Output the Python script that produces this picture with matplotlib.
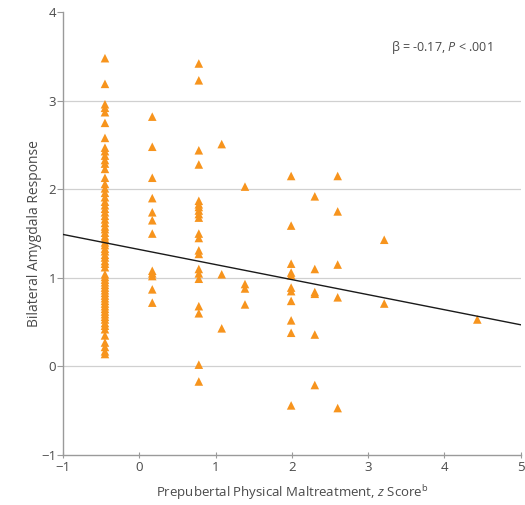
import matplotlib
matplotlib.use("Agg")
import matplotlib.pyplot as plt
import numpy as np

plt.rcParams["font.family"] = ["Open Sans", "DejaVu Sans"]
plt.rcParams["mathtext.fontset"] = "custom"
plt.rcParams["mathtext.rm"] = "Open Sans"
plt.rcParams["mathtext.it"] = "Open Sans:italic"

# Prepubertal physical maltreatment z score levels (one per column of points)
z_levels = [-0.45, 0.17, 0.78, 1.08, 1.385, 1.99, 2.30, 2.60, 3.21, 4.43]

# Bilateral amygdala response at each z score level
resp_m045 = [3.48, 3.19, 2.96, 2.92, 2.87, 2.75, 2.58, 2.47, 2.43, 2.38, 2.33,
             2.29, 2.23, 2.13, 2.06, 2.01, 1.96, 1.91, 1.86, 1.82, 1.78, 1.74,
             1.70, 1.66, 1.62, 1.58, 1.55, 1.51, 1.47, 1.44, 1.40, 1.37, 1.33,
             1.30, 1.26, 1.23, 1.19, 1.16, 1.12, 1.04, 1.01, 0.98, 0.95, 0.92,
             0.89, 0.86, 0.83, 0.80, 0.77, 0.74, 0.71, 0.68, 0.65, 0.62, 0.59,
             0.56, 0.53, 0.49, 0.46, 0.42, 0.35, 0.27, 0.22, 0.17, 0.14]
resp_017 = [2.82, 2.48, 2.13, 1.90, 1.74, 1.65, 1.50, 1.08, 1.05, 1.02, 0.87, 0.72]
resp_078 = [3.42, 3.23, 2.44, 2.28, 1.87, 1.83, 1.80, 1.76, 1.72, 1.68, 1.50,
            1.45, 1.31, 1.27, 1.10, 1.05, 0.99, 0.68, 0.60, 0.02, -0.17]
resp_108 = [2.51, 1.04, 0.43]
resp_139 = [2.03, 0.93, 0.88, 0.70]
resp_199 = [2.15, 1.59, 1.16, 1.06, 1.03, 0.89, 0.85, 0.74, 0.52, 0.38, -0.44]
resp_230 = [1.92, 1.10, 0.84, 0.82, 0.36, -0.21]
resp_260 = [2.15, 1.75, 1.15, 0.78, -0.47]
resp_321 = [1.43, 0.71]
resp_443 = [0.53]

# Fitted regression line
beta = -0.17
intercept = 1.32

x_ticks = [-1, 0, 1, 2, 3, 4, 5]
y_ticks = [-1, 0, 1, 2, 3, 4]

columns = [resp_m045, resp_017, resp_078, resp_108, resp_139,
           resp_199, resp_230, resp_260, resp_321, resp_443]
xs = np.concatenate([[z] * len(col) for z, col in zip(z_levels, columns)])
ys = np.concatenate(columns)

text_color = "#4a4a4a"
axis_color = "#9a9a9a"
orange = "#F7941D"

fig = plt.figure(figsize=(5.25, 5.05), dpi=100)
ax = fig.add_axes([0.12, 0.099, 0.872, 0.877])

for yv in [0, 1, 2, 3]:
    ax.axhline(yv, color="#d0d0d0", lw=0.9, zorder=0)

ax.scatter(xs, ys, marker="^", s=38, color=orange, edgecolors="none", zorder=3)

line_x = np.array([x_ticks[0], x_ticks[-1]])
ax.plot(line_x, intercept + beta * line_x, color="#1a1a1a", lw=1.0, zorder=4)

ax.set_xlim(-1, 5)
ax.set_ylim(-1, 4)
ax.set_xticks(x_ticks)
ax.set_yticks(y_ticks)

for side in ["top", "right"]:
    ax.spines[side].set_visible(False)
for side in ["left", "bottom"]:
    ax.spines[side].set_color(axis_color)
    ax.spines[side].set_linewidth(1.0)

ax.tick_params(axis="both", colors=axis_color, labelcolor=text_color,
               labelsize=9.5, length=4, width=0.8)
ax.tick_params(axis="x", direction="inout", pad=2)
ax.tick_params(axis="y", pad=1)

ax.set_xlabel(r"Prepubertal Physical Maltreatment, $\mathit{z}$ Score$^\mathrm{b}$",
              fontsize=9.5, color=text_color, labelpad=7)
ax.set_ylabel("Bilateral Amygdala Response", fontsize=10, color=text_color,
              labelpad=-1)

ax.text(3.97, 3.6, r"β = -0.17, $\mathit{P}$ < .001", fontsize=9,
        color=text_color, ha="center", va="center")

fig.savefig("out.png", dpi=100)
